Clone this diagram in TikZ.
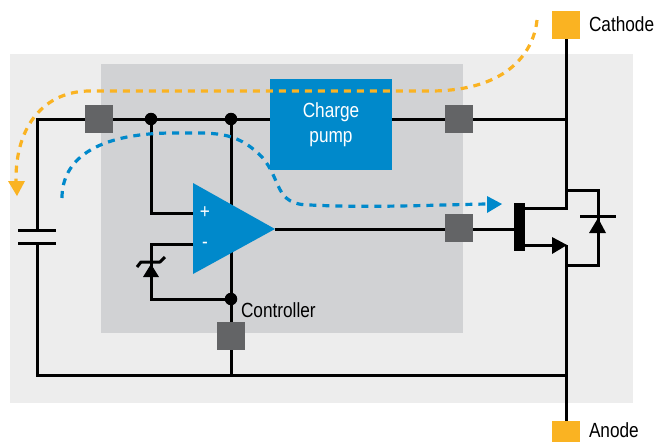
\documentclass[tikz,border=0pt]{standalone}
\usepackage{fontspec}
\setmainfont[FakeStretch=0.84]{Liberation Sans}
\definecolor{lightbg}{HTML}{EDEDED}
\definecolor{darkbg}{HTML}{D1D2D4}
\definecolor{bluec}{HTML}{0089CB}
\definecolor{orangec}{HTML}{FAB322}
\definecolor{padc}{HTML}{636466}
\tikzset{
  wire/.style={draw=black,line width=3pt,line join=miter},
  pad/.style={rectangle,fill=padc,minimum size=28pt,inner sep=0pt,outer sep=0pt},
  term/.style={rectangle,fill=orangec,minimum size=28pt,inner sep=0pt,outer sep=0pt},
  dot/.style={circle,fill=black,minimum size=12.5pt,inner sep=0pt,outer sep=0pt},
  lab/.style={inner sep=0pt,outer sep=0pt,font=\fontsize{20.5pt}{25pt}\selectfont},
  odash/.style={draw=orangec,line width=3.2pt,dash pattern=on 7pt off 6pt},
  bdash/.style={draw=bluec,line width=3.2pt,dash pattern=on 7pt off 6pt},
}
\begin{document}
\begin{tikzpicture}[x=1pt,y=-1pt]
\useasboundingbox (0,0) rectangle (659,442);
\fill[lightbg] (10,54) rectangle (633,403);
\fill[darkbg] (101,64) rectangle (463,333);
% named points
\coordinate (tl) at (37,119);
\coordinate (capT) at (37,230);
\coordinate (capB) at (37,243);
\coordinate (bl) at (37,375);
\coordinate (br) at (566,375);
\coordinate (tr) at (566,119);
\coordinate (drain) at (566,208);
\coordinate (bodyT) at (566,190);
\coordinate (src) at (566,245);
\coordinate (bodyB) at (566,265);
\coordinate (ctlB) at (231,375);
\coordinate (d1) at (151,119);
\coordinate (d2) at (231,119);
\coordinate (d3) at (231,299);
\coordinate (plus) at (193,213);
\coordinate (minus) at (193,244);
\coordinate (outp) at (275,229);
\coordinate (cat) at (566,25);
\coordinate (ano) at (566,435);
\coordinate (p3) at (459,229);
\coordinate (gate) at (514,229);
% wires
\draw[wire] (capT) -- (tl) -- (tr);
\draw[wire] (capB) -- (bl) -- (br);
\draw[wire] (cat) -- (drain) -- (525,208);
\draw[wire] (d2) -- (ctlB);
\draw[wire] (d1) -- (151,213) -- (plus);
\draw[wire] (minus) -- (151,244) -- (151,299) -- (d3);
\draw[wire] (outp) -- (p3);
\draw[wire] (p3) -- (gate);
\draw[wire] (525,245) -- (552,245);
\draw[wire] (src) -- (ano);
\draw[wire] (bodyT) -- (598,190) -- (598,265) -- (bodyB);
\draw[wire] (18,230) -- (56,230);
\draw[wire] (18,243) -- (56,243);
\draw[wire] (580,216) -- (616,216);
\draw[wire,line join=round] (137,267) -- (141,262) -- (160,262) -- (165,257);
% pads, dots above wires
\node[term] (catbox) at (cat) {};
\node[term] (anobox) at (ano) {};
\node[pad] (p1) at (99,119) {};
\node[pad] (p2) at (459,119) {};
\node[pad] (p3box) at (459,228) {};
\node[pad] (p4) at (231,336) {};
\node[dot] (dot1) at (d1) {};
\node[dot] (dot2) at (d2) {};
\node[dot] (dot3) at (d3) {};
% solid shapes
\fill[black] (514,203) rectangle (525,251);
\fill[black] (552,237) -- (567,245) -- (552,254) -- cycle;
\fill[black] (589,233) -- (598,218) -- (606,233) -- cycle;
\fill[black] (143,277) -- (151,264) -- (159,277) -- cycle;
\fill[bluec] (193,183) -- (275,229) -- (193,274) -- cycle;
\node[rectangle,fill=bluec,minimum width=122pt,minimum height=91pt,inner sep=0pt] (cp) at (331,124.5) {};
\node[lab,text=white,align=center] (cpl) at (331,125) {Charge\\pump};
\node[lab,text=white] (pl) at (205,212.5) {+};
\node[lab,text=white] (mi) at (205,245) {-};
\node[lab,anchor=west] (ctl) at (241,310) {Controller};
\node[lab,anchor=west] (catl) at (589,24) {Cathode};
\node[lab,anchor=west] (anol) at (589,430) {Anode};
% flows
\draw[odash] (537,20) .. controls (534,50) and (510,91) .. (430,91) -- (90,91) .. controls (45,91) and (15,125) .. (16,182);
\fill[orangec] (8,181) -- (25,181) -- (17,196) -- cycle;
\draw[bdash] (62,198) .. controls (62,160) and (95,134) .. (170,133) .. controls (215,133) and (235,130) .. (262,157) .. controls (282,180) and (274,205) .. (310,205) .. controls (370,208) and (430,205) .. (487,204);
\fill[bluec] (487,196) -- (502,204) -- (487,213) -- cycle;
\end{tikzpicture}
\end{document}
